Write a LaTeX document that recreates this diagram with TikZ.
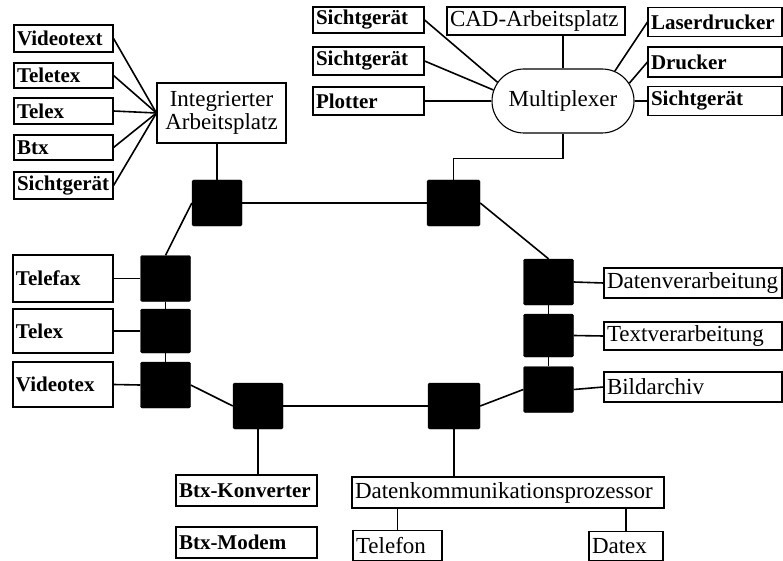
\documentclass[tikz,border=0pt]{standalone}
\usepackage{fontspec}
\setmainfont{Liberation Serif}
\usetikzlibrary{shapes.misc}
\newcommand\rgf{\fontsize{23}{23}\selectfont}
\newcommand\bdf{\fontsize{21}{23}\selectfont\bfseries}
\tikzset{
  bx/.code 2 args={\pgfmathsetmacro\bxw{#1-6}\edef\bxtmp{\noexpand\pgfkeysalso{draw,line width=1.1pt,minimum width=#1pt,minimum height=#2pt,text width=\bxw pt,align=left,inner xsep=3pt,inner ysep=0pt}}\bxtmp},
  sq/.style={fill=black,draw=black,minimum width=50pt,minimum height=46pt,rounded corners=1.5pt,inner sep=0pt},
  ln/.style={line width=1.6pt},
}
\begin{document}
\begin{tikzpicture}[x=1pt,y=-1pt]
\useasboundingbox (0,0) rectangle (783,561);
% left group
\node[bx={99}{27},font=\bdf] (vt) at (63.5,38.5) {Videotext};
\node[bx={99}{25},font=\bdf] (ttx) at (63.5,75.5) {Teletex};
\node[bx={99}{26},font=\bdf] (tlx) at (63.5,111) {Telex};
\node[bx={99}{25},font=\bdf] (btx) at (63.5,147.5) {Btx};
\node[bx={99}{27},font=\bdf] (sg) at (63.5,185.5) {Sichtgerät};
\node[draw,line width=1.1pt,minimum width=129pt,minimum height=60pt,align=center,inner sep=0pt,font=\rgf] (ia) at (221.5,113) {Integrierter\\Arbeitsplatz};
\foreach \n in {vt,ttx,tlx,btx,sg} \draw[ln] (\n.east) -- (ia.west);
% top group
\node[bx={111}{26},font=\bdf] (sg1) at (368.5,20) {Sichtgerät};
\node[bx={111}{28},font=\bdf] (sg2) at (368.5,61) {Sichtgerät};
\node[bx={111}{28},font=\bdf] (plt) at (368.5,101) {Plotter};
\node[bx={178}{28},font=\rgf] (cad) at (536,21) {CAD-Arbeitsplatz};
\node[bx={134}{29},font=\bdf] (ld) at (715,22) {Laserdrucker};
\node[bx={134}{30},font=\bdf] (dr) at (715,62) {Drucker};
\node[bx={134}{29},font=\bdf] (sgr) at (715,101) {Sichtgerät};
\node[draw,line width=1.1pt,rounded rectangle,minimum width=142pt,minimum height=64pt,inner sep=0pt,font=\rgf] (mux) at (563,101) {Multiplexer};
\draw[ln] (sg1.east) -- (mux.164);
\draw[ln] (sg2.east) -- (mux.171);
\draw[ln] (plt.east) -- (mux.west);
\draw[ln] (mux.north) -- (mux.north |- cad.south);
\draw[ln] (ld.west) -- (mux.30);
\draw[ln] (dr.west) -- (mux.15);
\draw[ln] (mux.east) -- (sgr.west);
% ring squares
\node[sq] (s1) at (217,203) {};
\node[sq,minimum width=53pt] (s2) at (453.5,203) {};
\node[sq] (sDV) at (548.5,282) {};
\node[sq,minimum height=43pt] (sTV) at (548.5,335.5) {};
\node[sq] (sBA) at (548.5,389.5) {};
\node[sq] (sTF) at (165.5,278.5) {};
\node[sq,minimum height=44pt] (sTX) at (165.5,331) {};
\node[sq] (sVT) at (165.5,385) {};
\node[sq] (sBK) at (258,406) {};
\node[sq,minimum width=52pt] (sDK) at (454,406) {};
\draw[ln] (s1.north) -- (s1.north |- ia.south);
\draw[ln] (mux.south) -- ++(0,25) -| (s2.north);
\draw[ln] (s1.east) -- (s2.west);
\draw[ln] (s1.west) -- (sTF.north);
\draw[ln] (s2.east) -- (sDV.north);
\draw[ln] (sTF.south) -- (sTX.north);
\draw[ln] (sTX.south) -- (sVT.north);
\draw[ln] (sDV.south) -- (sTV.north);
\draw[ln] (sTV.south) -- (sBA.north);
\draw[ln] (sVT.east) -- (sBK.west);
\draw[ln] (sBK.east) -- (sDK.west);
\draw[ln] (sDK.east) -- (sBA.west);
% left leaves
\node[bx={100}{47},font=\bdf] (tf) at (63,278.5) {Telefax};
\node[bx={100}{44},font=\bdf] (tx) at (63,331) {Telex};
\node[bx={100}{45},font=\bdf] (vx) at (63,384.5) {Videotex};
\draw[ln] (tf.east) -- (sTF.west);
\draw[ln] (tx.east) -- (sTX.west);
\draw[ln] (vx.east) -- (sVT.west);
% right leaves
\node[bx={178}{30},font=\rgf] (dv) at (693,283) {Datenverarbeitung};
\node[bx={178}{28},font=\rgf] (tv) at (693,336) {Textverarbeitung};
\node[bx={178}{30},font=\rgf] (ba) at (693,387) {Bildarchiv};
\draw[ln] (sDV.east) -- (dv.west);
\draw[ln] (sTV.east) -- (tv.west);
\draw[ln] (sBA.east) -- (ba.west);
% bottom
\node[bx={141}{31},font=\bdf] (bk) at (246.5,490.5) {Btx-Konverter};
\node[bx={141}{31},font=\bdf] (bm) at (246.5,542.5) {Btx-Modem};
\node[bx={312}{31},font=\rgf] (dkp) at (508,492.5) {Datenkommunikationsprozessor};
\node[bx={89}{30},font=\rgf] (tel) at (397.5,545.5) {Telefon};
\node[bx={74}{29},font=\rgf] (dx) at (626,546) {Datex};
\draw[ln] (sBK.south) -- (sBK.south |- bk.north);
\draw[ln] (sDK.south) -- (sDK.south |- dkp.north);
\draw[ln] (tel.north |- dkp.south) -- (tel.north);
\draw[ln] (dx.north |- dkp.south) -- (dx.north);
\end{tikzpicture}
\end{document}
